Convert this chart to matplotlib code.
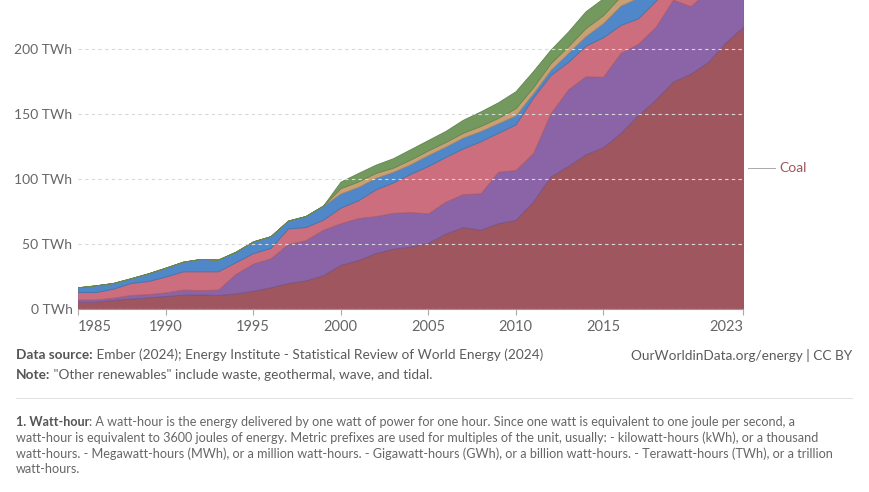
import numpy as np
import matplotlib
matplotlib.use("Agg")
import matplotlib.pyplot as plt

plt.rcParams['font.family'] = ['Lato', 'DejaVu Sans']

years = list(range(1985, 2024))

# TWh per source
coal = [5.6, 5.6, 7.0, 8.0, 9.0, 10.0, 11.0, 11.3, 10.8, 12.0,
        14.0, 16.7, 20.0, 22.0, 26.0, 34.0, 37.7, 43.0, 46.4, 48.0,
        51.0, 58.0, 63.0, 61.0, 66.0, 68.5, 82.6, 102.0, 110.0, 119.0,
        124.5, 135.4, 149.0, 161.0, 175.0, 181.0, 190.0, 205.0, 217.0]
gas = [1.8, 1.8, 1.7, 2.8, 2.5, 2.8, 4.0, 3.3, 4.2, 15.0,
       21.0, 22.3, 30.0, 31.0, 35.0, 32.0, 32.3, 28.5, 27.6, 26.6,
       22.6, 24.6, 25.5, 28.0, 39.6, 38.5, 37.4, 48.5, 59.0, 60.0,
       54.2, 61.6, 55.0, 56.0, 63.0, 52.0, 55.0, 50.0, 48.0]
oil = [5.6, 5.6, 6.9, 9.2, 10.0, 12.2, 14.0, 14.4, 14.0, 9.0,
       8.0, 8.0, 12.0, 10.0, 7.7, 12.0, 13.6, 20.5, 23.4, 29.4,
       36.4, 34.4, 35.1, 40.0, 30.0, 35.0, 42.6, 29.5, 21.0, 23.6,
       30.3, 21.5, 19.6, 20.0, 15.0, 12.0, 10.0, 8.0, 7.0]
hydro = [3.7, 5.2, 4.4, 3.6, 5.9, 6.8, 7.4, 9.5, 9.0, 8.0,
         9.0, 9.0, 6.0, 8.5, 10.8, 11.0, 10.4, 9.0, 8.2, 7.5,
         8.5, 8.0, 8.4, 8.0, 7.4, 7.0, 3.4, 4.0, 7.0, 7.4,
         11.0, 15.0, 16.0, 17.0, 16.0, 18.0, 20.0, 21.0, 20.0]
bioenergy = [0, 0, 0, 0, 0, 0, 0, 0, 0, 0,
             0, 0, 0, 0, 0, 4.0, 4.0, 3.6, 3.1, 3.5,
             3.5, 3.5, 3.6, 3.8, 4.0, 5.4, 4.5, 5.0, 5.0, 6.0,
             6.0, 7.0, 8.0, 9.0, 10.0, 11.0, 12.0, 13.0, 14.0]
other_renewables = [0, 0, 0, 0, 0, 0, 0, 0, 0, 0,
                    0, 0, 0, 0, 0, 5.0, 6.6, 6.4, 7.3, 8.0,
                    8.0, 8.5, 10.0, 11.2, 12.0, 13.1, 12.5, 10.5, 11.4, 13.0,
                    13.0, 14.0, 15.0, 15.0, 16.0, 16.0, 17.0, 17.0, 18.0]

y_ticks = [0, 50, 100, 150, 200]
x_ticks = [1985, 1990, 1995, 2000, 2005, 2010, 2015, 2023]

colors = ['#a0565e', '#8a64a6', '#cc6e7e', '#4f87c9', '#c9a074', '#73995f']
edges = ['#8a4a50', '#77558f', '#b35d6c', '#4274ad', '#b08a62', '#628650']

fig = plt.figure(figsize=(8.7, 4.92), dpi=100)
W, H = 870, 492
x0, x1, y0 = 78, 743, 309
px_per_twh = 1.3
ymax = 300
ax = fig.add_axes([x0 / W, 1 - y0 / H, (x1 - x0) / W, ymax * px_per_twh / H])

polys = ax.stackplot(years, coal, gas, oil, hydro, bioenergy, other_renewables,
                     colors=colors, linewidth=0.6)
for p, ec in zip(polys, edges):
    p.set_edgecolor(ec)

ax.set_xlim(1985, 2023)
ax.set_ylim(0, ymax)
ax.set_axisbelow(False)
ax.set_yticks(y_ticks)
ax.set_yticklabels([f"{v} TWh" for v in y_ticks])
ax.yaxis.grid(True, linestyle=(0, (3, 3)), color='#d9d9d9', linewidth=0.8)
ax.tick_params(axis='y', length=0, pad=4, labelsize=10, labelcolor='#666666')

ax.set_xticks(x_ticks)
ax.set_xticklabels([str(v) for v in x_ticks])
ax.tick_params(axis='x', length=4, width=0.8, color='#aaaaaa', pad=4,
               labelsize=10.5, labelcolor='#666666')
labs = ax.get_xticklabels()
labs[0].set_ha('left')
labs[-1].set_ha('right')

for s in ['top', 'right', 'left']:
    ax.spines[s].set_visible(False)
ax.spines['bottom'].set_color('#999999')
ax.spines['bottom'].set_linewidth(0.8)

# label for coal at the right
yc = coal[-1] / 2
tr = ax.get_yaxis_transform()
ax.plot([1.0075, 1.048], [yc, yc], transform=tr, color='#aaaaaa', lw=0.7,
        clip_on=False)
ax.text(1.054, yc, "Coal", transform=tr, color='#a0565e', fontsize=10,
        va='center', ha='left')

renderer = fig.canvas.get_renderer()


def bold_then_plain(x, y, bold, plain, size, bcolor, pcolor):
    t = fig.text(x / W, 1 - y / H, bold, fontsize=size, fontweight='bold',
                 color=bcolor, va='center', ha='left')
    bb = t.get_window_extent(renderer)
    fig.text(bb.x1 / W, 1 - y / H, plain, fontsize=size, color=pcolor,
             va='center', ha='left')


bold_then_plain(16, 355, "Data source:",
                " Ember (2024); Energy Institute - Statistical Review of World Energy (2024)",
                9.8, '#555555', '#5b5b5b')
bold_then_plain(16, 375, "Note:",
                " \"Other renewables\" include waste, geothermal, wave, and tidal.",
                9.8, '#555555', '#5b5b5b')
fig.text(852 / W, 1 - 355 / H, "OurWorldinData.org/energy | CC BY",
         fontsize=9.8, color='#5b5b5b', va='center', ha='right')

fig.add_artist(plt.Line2D([16 / W, 852 / W], [1 - 398 / H, 1 - 398 / H],
                          color='#e3e3e3', lw=0.8))

bold_then_plain(16, 422, "1. Watt-hour",
                ": A watt-hour is the energy delivered by one watt of power for one hour. "
                "Since one watt is equivalent to one joule per second, a",
                9.1, '#555555', '#666666')
foot = [
    "watt-hour is equivalent to 3600 joules of energy. Metric prefixes are used for "
    "multiples of the unit, usually: - kilowatt-hours (kWh), or a thousand",
    "watt-hours. - Megawatt-hours (MWh), or a million watt-hours. - Gigawatt-hours "
    "(GWh), or a billion watt-hours. - Terawatt-hours (TWh), or a trillion",
    "watt-hours.",
]
for i, line in enumerate(foot):
    fig.text(16 / W, 1 - (438 + 15.7 * i) / H, line, fontsize=9.1,
             color='#666666', va='center', ha='left')

fig.savefig("out.png", dpi=100)
